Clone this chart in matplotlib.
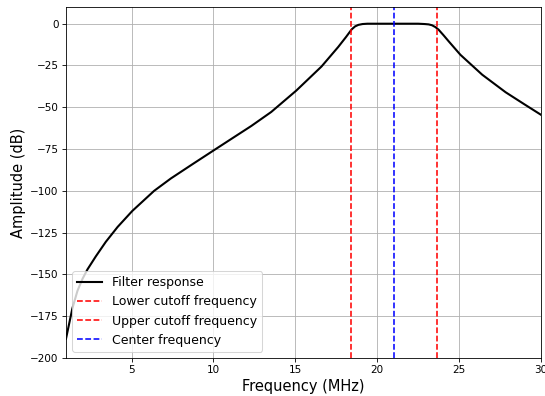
import matplotlib
matplotlib.use("Agg")
import matplotlib.pyplot as plt

# filter response (MHz, dB)
freq_mhz = [1.0, 1.19, 1.39, 1.70, 2.01, 2.31, 2.82, 3.43, 4.15, 5.05, 6.38,
            7.40, 8.73, 10.06, 11.49, 12.31, 13.53, 15.06, 16.6, 17.62,
            18.1, 18.44, 18.65, 18.85, 19.1, 19.4, 20.5, 21.5, 22.5, 22.9,
            23.14, 23.34, 23.55, 23.75, 24.05, 24.37, 25.08, 26.41, 27.84,
            29.0, 30.0]
amp_db = [-188.5, -179.6, -170.3, -159.8, -152.6, -147.0, -139.2, -130.5,
          -121.6, -112.0, -100.0, -92.6, -84.0, -75.5, -66.4, -61.2, -52.8,
          -40.0, -25.6, -13.9, -7.9, -3.4, -1.6, -0.7, -0.2, 0.0, 0.0, 0.0,
          0.0, -0.2, -0.4, -0.9, -2.0, -3.6, -6.9, -10.6, -18.6, -30.5,
          -41.0, -48.3, -54.5]

f_low = 18.42
f_high = 23.68
f_center = 21.0

# drawn at 75 dpi so the default sizes come out like the reference
fig = plt.figure(figsize=(545 / 75, 396 / 75), dpi=75)
ax = fig.add_axes([66 / 545, 38 / 396, 475 / 545, 351 / 396])

ax.plot(freq_mhz, amp_db, color="black", lw=2, label="Filter response")
ax.axvline(f_low, color="red", ls="--", label="Lower cutoff frequency")
ax.axvline(f_high, color="red", ls="--", label="Upper cutoff frequency")
ax.axvline(f_center, color="blue", ls="--", label="Center frequency")

ax.set_xlim(1, 30)
ax.set_ylim(-200, 10)
ax.set_xlabel("Frequency (MHz)", fontsize=14)
ax.set_ylabel("Amplitude (dB)", fontsize=14)
ax.grid(True)
ax.legend(loc="lower left", fontsize=12)

fig.savefig("out.png", dpi=75)
